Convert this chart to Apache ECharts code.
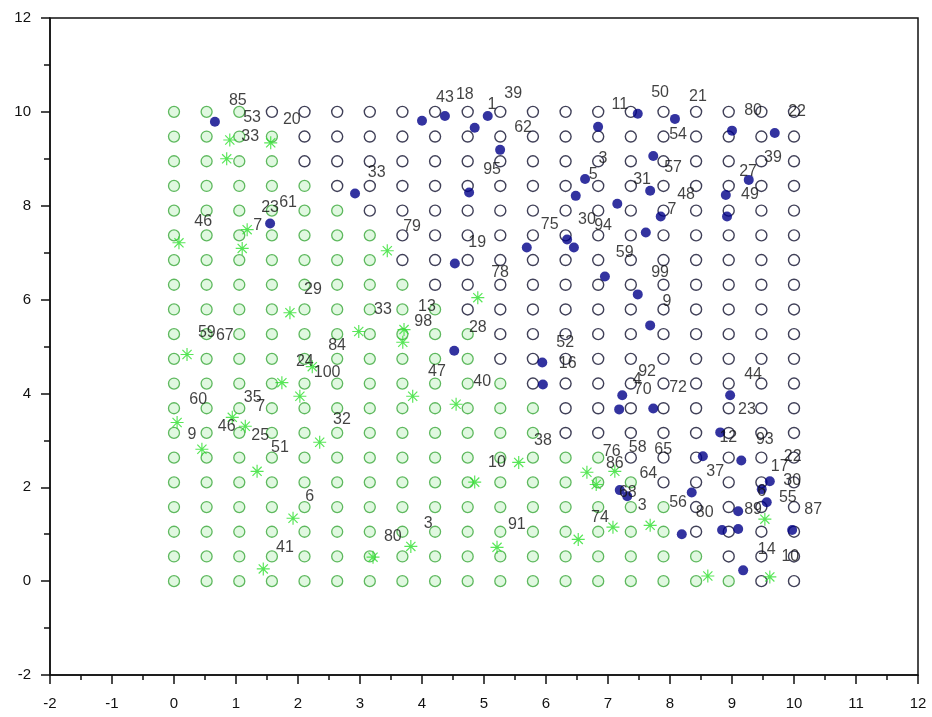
<!DOCTYPE html>
<html>
<head>
<meta charset="utf-8">
<script src="https://cdn.jsdelivr.net/npm/echarts@6/dist/echarts.min.js"></script>
<style>
  html, body { margin: 0; padding: 0; background: #fff; }
  #main { width: 932px; height: 717px; }
</style>
</head>
<body>
<div id="main"></div>
<script>
var myChart = echarts.init(document.getElementById('main'));

// regular 20x20 grid of reference points
var gridValues = [0, 0.526, 1.053, 1.579, 2.105, 2.632, 3.158, 3.684, 4.211, 4.737,
                  5.263, 5.789, 6.316, 6.842, 7.368, 7.895, 8.421, 8.947, 9.474, 10];
// how many columns (from the left) are green, row by row from y=0 upward
var greenCols = [18, 17, 16, 16, 15, 14, 12, 12, 11, 10, 10, 9, 8, 7, 7, 6, 5, 4, 4, 3];

// class 2 samples (filled blue dots)
var blueDots = [
    [0.66, 9.79], [2.92, 8.26], [1.55, 7.62], [4.00, 9.81], [4.37, 9.91], [4.85, 9.66],
    [5.06, 9.91], [6.84, 9.68], [7.48, 9.96], [5.26, 9.19], [6.63, 8.57], [6.48, 8.21],
    [7.15, 8.04], [4.76, 8.28], [5.69, 7.11], [6.34, 7.28], [6.45, 7.11], [4.53, 6.77],
    [6.95, 6.49], [8.08, 9.85], [9.00, 9.60], [9.69, 9.55], [7.73, 9.06], [9.27, 8.55],
    [7.68, 8.32], [8.90, 8.23], [7.85, 7.77], [8.92, 7.77], [7.61, 7.43], [7.48, 6.11],
    [7.68, 5.45], [4.52, 4.91], [5.94, 4.66], [5.95, 4.19], [7.23, 3.96], [7.18, 3.66],
    [7.73, 3.68], [8.97, 3.96], [8.81, 3.17], [8.53, 2.66], [9.15, 2.57], [9.61, 2.13],
    [9.48, 1.96], [8.35, 1.89], [7.19, 1.94], [7.31, 1.81], [9.10, 1.49], [9.56, 1.68],
    [8.19, 1.00], [8.84, 1.09], [9.10, 1.11], [9.97, 1.09], [9.18, 0.23]
];

// class 1 samples (green stars)
var greenStars = [
    [0.90, 9.40], [0.85, 9.00], [1.56, 9.34], [1.18, 7.49], [0.08, 7.21], [1.10, 7.09],
    [3.44, 7.04], [1.87, 5.72], [2.98, 5.32], [4.90, 6.04], [3.71, 5.36], [3.69, 5.09],
    [0.21, 4.83], [1.74, 4.23], [2.03, 3.94], [0.94, 3.49], [1.15, 3.30], [0.05, 3.38],
    [2.35, 2.96], [0.45, 2.81], [1.34, 2.34], [1.92, 1.34], [1.44, 0.26], [3.21, 0.51],
    [2.23, 4.57], [3.85, 3.94], [4.55, 3.77], [5.56, 2.53], [4.85, 2.11], [6.66, 2.32],
    [6.81, 2.06], [7.11, 2.34], [6.52, 0.89], [7.08, 1.15], [3.82, 0.74], [5.21, 0.72],
    [7.68, 1.19], [9.53, 1.32], [8.61, 0.11], [9.61, 0.09]
];

// sample numbers written next to the points
var labelText = [
    '85', '53', '20', '33', '33', '23', '61', '46', '7', '29', '33', '59', '67',
    '43', '18', '1', '39', '11', '62', '3', '5', '95', '79', '75', '30', '94',
    '19', '78', '13', '98', '28', '50', '21', '80', '22', '54', '57', '39', '27',
    '31', '48', '49', '7', '59', '99', '9', '84', '24', '100', '60', '35', '7',
    '32', '9', '46', '25', '51', '6', '41', '52', '16', '47', '40', '38', '10',
    '76', '86', '74', '3', '80', '91', '92', '4', '70', '72', '44', '23', '12',
    '93', '58', '65', '37', '22', '17', '30', '64', '55', '6', '56', '80', '3',
    '68', '89', '87', '14', '10'
];
var labelPos = [
    [1.03, 10.23], [1.26, 9.87], [1.90, 9.83], [1.23, 9.47], [3.27, 8.70], [1.55, 7.96],
    [1.84, 8.06], [0.47, 7.66], [1.35, 7.57], [2.24, 6.21], [3.37, 5.79], [0.53, 5.30],
    [0.82, 5.23], [4.37, 10.30], [4.69, 10.36], [5.13, 10.15], [5.47, 10.38], [7.19, 10.15],
    [5.63, 9.66], [6.92, 9.00], [6.76, 8.66], [5.13, 8.77], [3.84, 7.55], [6.06, 7.60],
    [6.66, 7.70], [6.92, 7.57], [4.89, 7.21], [5.26, 6.57], [4.08, 5.85], [4.02, 5.53],
    [4.90, 5.40], [7.84, 10.40], [8.45, 10.32], [9.34, 10.02], [10.05, 10.00], [8.13, 9.51],
    [8.05, 8.81], [9.66, 9.02], [9.26, 8.72], [7.55, 8.55], [8.26, 8.23], [9.29, 8.23],
    [8.03, 7.91], [7.27, 7.00], [7.84, 6.57], [7.95, 5.96], [2.63, 5.02], [2.11, 4.68],
    [2.47, 4.45], [0.39, 3.87], [1.27, 3.91], [1.40, 3.72], [2.71, 3.45], [0.29, 3.13],
    [0.85, 3.30], [1.39, 3.11], [1.71, 2.85], [2.19, 1.81], [1.79, 0.72], [6.31, 5.09],
    [6.35, 4.64], [4.24, 4.47], [4.97, 4.26], [5.95, 3.00], [5.21, 2.53], [7.06, 2.77],
    [7.11, 2.51], [6.87, 1.36], [4.10, 1.23], [3.53, 0.94], [5.53, 1.21], [7.63, 4.47],
    [7.47, 4.30], [7.56, 4.09], [8.13, 4.13], [9.34, 4.40], [9.24, 3.66], [8.94, 3.06],
    [9.53, 3.02], [7.48, 2.85], [7.89, 2.81], [8.73, 2.34], [9.98, 2.66], [9.77, 2.45],
    [9.97, 2.15], [7.65, 2.30], [9.90, 1.79], [9.48, 1.91], [8.13, 1.68], [8.56, 1.47],
    [7.55, 1.60], [7.32, 1.89], [9.34, 1.53], [10.31, 1.53], [9.56, 0.68], [9.94, 0.53]
];

var gridGreen = [];
var gridBlue = [];
for (var j = 0; j < gridValues.length; j++) {
    for (var i = 0; i < gridValues.length; i++) {
        if (i < greenCols[j]) gridGreen.push([gridValues[i], gridValues[j]]);
        else gridBlue.push([gridValues[i], gridValues[j]]);
    }
}

var labelData = labelText.map(function (t, k) {
    return { name: t, value: labelPos[k] };
});

var asterisk = 'path://M-0.9,-10 L0.9,-10 L0.9,10 L-0.9,10 Z M-10,-0.9 L10,-0.9 L10,0.9 L-10,0.9 Z ' +
    'M-7.7,-6.4 L-6.4,-7.7 L7.7,6.4 L6.4,7.7 Z M6.4,-7.7 L7.7,-6.4 L-6.4,7.7 L-7.7,6.4 Z';

var axisFont = { color: '#111', fontSize: 15, fontFamily: 'Liberation Sans' };

var option = {
    backgroundColor: '#fff',
    animation: false,
    grid: {
        left: 50, right: 14, top: 18, bottom: 42,
        show: true, borderColor: '#111', borderWidth: 1.5
    },
    xAxis: {
        type: 'value',
        min: -2, max: 12, interval: 1,
        axisLine: { show: true, onZero: false, lineStyle: { color: '#111', width: 1.5 } },
        axisTick: { show: true, inside: false, length: 9, lineStyle: { color: '#111', width: 1.5 } },
        minorTick: { show: true, splitNumber: 2, length: 5, lineStyle: { color: '#111', width: 1.5 } },
        splitLine: { show: false },
        axisLabel: Object.assign({ margin: 21 }, axisFont)
    },
    yAxis: {
        type: 'value',
        min: -2, max: 12, interval: 2,
        axisLine: { show: true, onZero: false, lineStyle: { color: '#111', width: 1.5 } },
        axisTick: { show: true, inside: false, length: 9, lineStyle: { color: '#111', width: 1.5 } },
        minorTick: { show: true, splitNumber: 2, length: 6, lineStyle: { color: '#111', width: 1.5 } },
        splitLine: { show: false },
        axisLabel: Object.assign({ margin: 19 }, axisFont)
    },
    series: [
        {
            type: 'scatter',
            data: gridGreen,
            symbol: 'circle',
            symbolSize: 11,
            itemStyle: { color: 'rgba(170,235,170,0.45)', borderColor: '#3aa83a', borderWidth: 1.3 },
            z: 1
        },
        {
            type: 'scatter',
            data: gridBlue,
            symbol: 'circle',
            symbolSize: 11,
            itemStyle: { color: 'rgba(255,255,255,0)', borderColor: '#10102e', borderWidth: 1.4 },
            z: 1
        },
        {
            type: 'scatter',
            data: greenStars,
            symbol: asterisk,
            symbolSize: 13,
            itemStyle: { color: '#2ee02e' },
            z: 2
        },
        {
            type: 'scatter',
            data: blueDots,
            symbol: 'circle',
            symbolSize: 10,
            itemStyle: { color: '#000088' },
            z: 3
        },
        {
            type: 'scatter',
            data: labelData,
            symbolSize: 1,
            itemStyle: { color: 'rgba(0,0,0,0)' },
            label: {
                show: true,
                position: 'inside',
                formatter: '{b}',
                color: '#111',
                fontSize: 16,
                fontFamily: 'Liberation Sans'
            },
            z: 4
        }
    ]
};

myChart.setOption(option);
</script>
</body>
</html>
